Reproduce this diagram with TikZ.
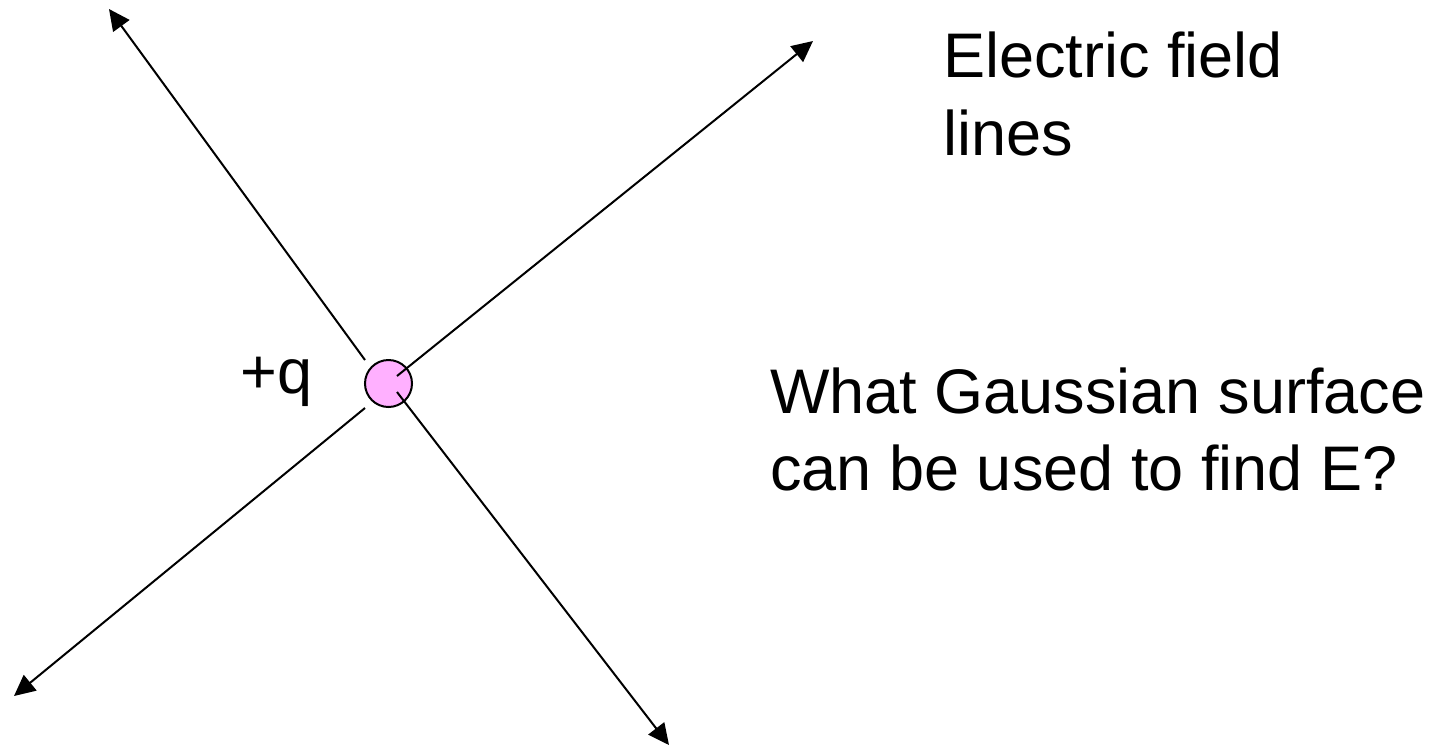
\documentclass[tikz,border=0pt]{standalone}
\usepackage{fontspec}
\setmainfont{Liberation Sans}
\usetikzlibrary{arrows.meta,positioning}
\definecolor{chargepink}{HTML}{FFB0FF}
\tikzset{
  fieldline/.style={black, -{Triangle[length=10.5pt,width=10pt]}, line width=1pt},
  charge/.style={circle, draw=black, fill=chargepink, line width=1pt, minimum size=23.5pt, inner sep=0pt},
  slidetext/.style={font=\fontsize{31.5}{38.75}\selectfont, inner sep=0pt, anchor=base west}
}
\begin{document}
\begin{tikzpicture}[x=0.5pt,y=-0.5pt]
  \useasboundingbox (0,0) rectangle (1453,746);
  % point charge
  \node[charge] (q) at (388.5,383.5) {};
  \node[slidetext] (qlabel) at (240,393) {+q};
  % field lines
  \coordinate (ulstart) at (365,360);
  \coordinate (ulend) at (109,9);
  \coordinate (urstart) at (397,376);
  \coordinate (urend) at (813,41);
  \coordinate (dlstart) at (365,408);
  \coordinate (dlend) at (14,696);
  \coordinate (drstart) at (397,392);
  \coordinate (drend) at (669,745);
  \draw[fieldline] (ulstart) -- (ulend);
  \draw[fieldline] (urstart) -- (urend);
  \draw[fieldline] (dlstart) -- (dlend);
  \draw[fieldline] (drstart) -- (drend);
  % captions
  \node[slidetext] (elec) at (943,77) {Electric field};
  \node[slidetext] (lines) at ([yshift=-39pt]elec.base west) {lines};
  \node[slidetext] (what) at (770,413) {What Gaussian surface};
  \node[slidetext] (can) at ([yshift=-38.5pt]what.base west) {can be used to find E?};
\end{tikzpicture}
\end{document}
